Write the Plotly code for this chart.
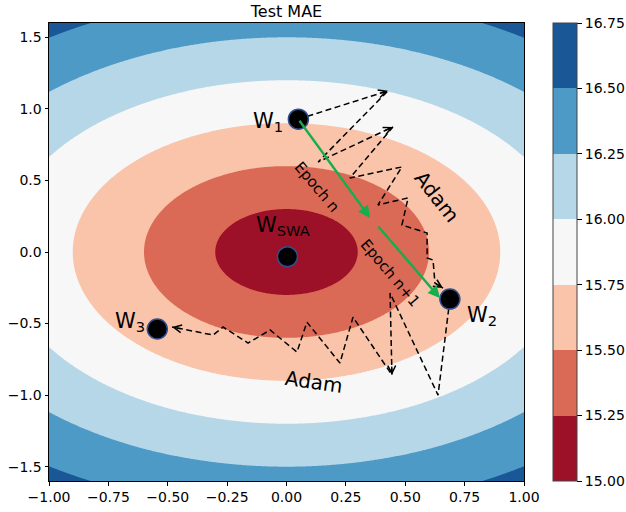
import numpy as np
import plotly.graph_objects as go

# ---------------- data ----------------
# loss surface: concentric (circular in data units) bands, level spacing
LOSS_MIN = 15.0            # value at the centre
LEVEL_STEP = 0.25          # colorbar step
RADIUS_PER_LEVEL = 0.30    # distance between consecutive contour boundaries
CENTER_X, CENTER_Y = 0.0, 0.0
CBAR_TICKS = [15.00, 15.25, 15.50, 15.75, 16.00, 16.25, 16.50, 16.75]
BAND_COLORS = ["#9d1128", "#da6a55", "#f9c4a9", "#f7f7f7", "#b6d7e8", "#4e9ac7", "#195797"]

X_TICKS = [-1.0, -0.75, -0.5, -0.25, 0.0, 0.25, 0.5, 0.75, 1.0]
Y_TICKS = [-1.5, -1.0, -0.5, 0.0, 0.5, 1.0, 1.5]

# weights (points)
W_LABELS = ["W<sub>1</sub>", "W<sub>2</sub>", "W<sub>3</sub>", "W<sub>SWA</sub>"]
W_X = [0.050, 0.688, -0.544, 0.004]
W_Y = [0.928, -0.329, -0.538, -0.033]
# label centres
W_LABEL_X = [-0.077, 0.823, -0.659, -0.013]
W_LABEL_Y = [0.905, -0.448, -0.490, 0.180]

# Adam zig-zag paths
ADAM1_X = [0.050, 0.427, 0.133, 0.448, 0.267, 0.486, 0.385, 0.512, 0.486, 0.592, 0.592, 0.617, 0.625, 0.659]
ADAM1_Y = [0.928, 1.126, 0.629, 0.874, 0.517, 0.594, 0.329, 0.378, 0.189, 0.133, -0.042, -0.056, -0.217, -0.252]
ADAM2_X = [0.688, 0.638, 0.436, 0.444, 0.280, 0.225, 0.086, 0.044, -0.069, -0.162, -0.267, -0.309, -0.482]
ADAM2_Y = [-0.329, -1.000, -0.287, -0.860, -0.455, -0.776, -0.490, -0.699, -0.545, -0.636, -0.524, -0.580, -0.524]
# indices (into the paths) of vertices that carry an arrow head
ADAM1_HEADS = [1, 3, 13]
ADAM2_HEADS = [3, 12]

# green epoch arrows: (tail x, tail y, tip x, tip y)
EPOCH_TAIL_X = [0.050, 0.381]
EPOCH_TAIL_Y = [0.928, 0.189]
EPOCH_TIP_X = [0.352, 0.646]
EPOCH_TIP_Y = [0.238, -0.322]

# text labels
TXT = ["Epoch n", "Epoch n+1", "Adam", "Adam"]
TXT_X = [0.128, 0.436, 0.634, 0.117]
TXT_Y = [0.455, -0.147, 0.385, -0.909]
TXT_ANGLE = [50, 50, 52, 8]
TXT_SIZE = [15, 15, 20, 20]

# ---------------- figure ----------------
FONT = "DejaVu Sans"
W, H = 626, 512
ML, MR, MT, MB = 49, 102, 23, 31
PW, PH = W - ML - MR, H - MT - MB
XR, YR = [-1.0, 1.0], [-1.6, 1.6]

xg = np.linspace(XR[0], XR[1], 401)
yg = np.linspace(YR[0], YR[1], 401)
XX, YY = np.meshgrid(xg, yg)
R = np.hypot(XX - CENTER_X, YY - CENTER_Y)
Z = LOSS_MIN + LEVEL_STEP * R / RADIUS_PER_LEVEL

n = len(BAND_COLORS)
cscale = [[i / (n - 1), c] for i, c in enumerate(BAND_COLORS)]

fig = go.Figure()
fig.add_trace(go.Contour(
    x=xg, y=yg, z=Z,
    autocontour=False,
    contours=dict(start=CBAR_TICKS[1], end=CBAR_TICKS[-2], size=LEVEL_STEP,
                  coloring="fill", showlines=False),
    line=dict(width=0),
    colorscale=cscale, zmin=CBAR_TICKS[0], zmax=CBAR_TICKS[-1],
    hoverinfo="skip",
    colorbar=dict(
        thickness=24, thicknessmode="pixels", len=1, lenmode="fraction",
        x=(553 - ML) / PW, xanchor="left", xpad=0,
        y=0.5, yanchor="middle", ypad=0,
        outlinewidth=1, outlinecolor="#444444",
        tickvals=CBAR_TICKS, ticktext=[f"{v:.2f}" for v in CBAR_TICKS],
        ticks="outside", ticklen=5, tickwidth=1, tickcolor="black",
        tickfont=dict(family=FONT, size=14, color="black"),
    ),
))

dash = "6px,3.5px"
fig.add_trace(go.Scatter(x=ADAM1_X, y=ADAM1_Y, mode="lines",
                         line=dict(color="black", width=1.5, dash=dash), hoverinfo="skip"))
fig.add_trace(go.Scatter(x=ADAM2_X, y=ADAM2_Y, mode="lines",
                         line=dict(color="black", width=1.5, dash=dash), hoverinfo="skip"))

fig.add_trace(go.Scatter(x=W_X, y=W_Y, mode="markers",
                         marker=dict(size=20, color="black",
                                     line=dict(color="#2f4f8f", width=1.5)),
                         hoverinfo="skip"))

sx = PW / (XR[1] - XR[0])
sy = PH / (YR[1] - YR[0])
annotations = []


def head(px, py, i, L=10):
    dxp = (px[i] - px[i - 1]) * sx
    dyp = -(py[i] - py[i - 1]) * sy
    nn = np.hypot(dxp, dyp)
    return dict(x=px[i], y=py[i], xref="x", yref="y", text="", showarrow=True,
                ax=-dxp / nn * L, ay=-dyp / nn * L, axref="pixel", ayref="pixel",
                arrowhead=5, arrowsize=1.1, arrowwidth=1.4, arrowcolor="black", standoff=0)


for i in ADAM1_HEADS:
    annotations.append(head(ADAM1_X, ADAM1_Y, i))
for i in ADAM2_HEADS:
    annotations.append(head(ADAM2_X, ADAM2_Y, i))

for tx, ty, hx, hy in zip(EPOCH_TAIL_X, EPOCH_TAIL_Y, EPOCH_TIP_X, EPOCH_TIP_Y):
    annotations.append(dict(x=hx, y=hy, ax=tx, ay=ty, xref="x", yref="y",
                            axref="x", ayref="y", text="", showarrow=True,
                            arrowhead=2, arrowsize=1.0, arrowwidth=2.4,
                            arrowcolor="#16ad4c", standoff=0))

for lab, lx, ly in zip(W_LABELS, W_LABEL_X, W_LABEL_Y):
    annotations.append(dict(x=lx, y=ly, xref="x", yref="y", text=lab, showarrow=False,
                            font=dict(family=FONT, size=21, color="black")))

for t, tx, ty, ang, sz in zip(TXT, TXT_X, TXT_Y, TXT_ANGLE, TXT_SIZE):
    annotations.append(dict(x=tx, y=ty, xref="x", yref="y", text=t, showarrow=False,
                            textangle=ang, font=dict(family=FONT, size=sz, color="black")))

axis_common = dict(showgrid=False, zeroline=False, showline=True, mirror=True,
                   linecolor="black", linewidth=1, ticks="outside", ticklen=3.5,
                   tickwidth=1, tickcolor="black",
                   tickfont=dict(family=FONT, size=14, color="black"))

fig.update_layout(
    width=W, height=H, autosize=False,
    margin=dict(l=ML, r=MR, t=MT, b=MB, pad=0, autoexpand=False),
    paper_bgcolor="white", plot_bgcolor="white",
    showlegend=False,
    title=dict(text="Test MAE", x=(ML + PW / 2) / W, xanchor="center",
               y=1 - 11 / H, yanchor="middle", yref="container",
               font=dict(family=FONT, size=16, color="black")),
    xaxis=dict(range=XR, tickvals=X_TICKS, tickformat=".2f", **axis_common),
    yaxis=dict(range=YR, tickvals=Y_TICKS, tickformat=".1f", **axis_common),
    annotations=annotations,
)

fig.write_html("out.html", config={"displayModeBar": False},
               post_script="document.body.style.margin='0';document.body.style.overflow='hidden';")
